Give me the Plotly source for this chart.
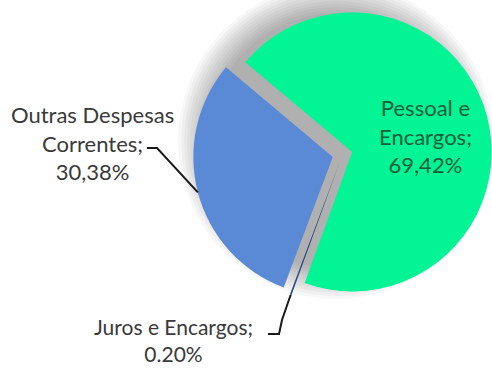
import math
import plotly.graph_objects as go

# ---- data ----
labels = ["Pessoal e Encargos", "Juros e Encargos", "Outras Despesas Correntes"]
values = [69.42, 0.20, 30.38]
label_texts = ["Pessoal e<br>Encargos;<br>69,42%",
               "Juros e Encargos;<br>0.20%",
               "Outras Despesas<br>Correntes;<br>30,38%"]
colors = ["#03F495", "#2B4C86", "#5A8AD6"]

# ---- layout geometry (pixels) ----
W, H = 492, 369
CX, CY = 342.5, 154.5      # pie centre
HALF = 149.5               # half box of pie domain
PULL = 0.0717
ROT = -50.0


def px2paper(x, y):
    return x / W, 1 - y / H


fig = go.Figure()

dom_x = [(CX - HALF) / W, min(1, (CX + HALF) / W)]
dom_y = [1 - (CY + HALF) / H, 1 - (CY - HALF) / H]

fig.add_trace(go.Pie(
    labels=labels, values=values, sort=False, direction="clockwise",
    rotation=ROT, pull=[PULL] * len(values),
    marker=dict(colors=colors, line=dict(width=0)),
    textinfo="none", hoverinfo="label+percent", showlegend=False,
    domain=dict(x=dom_x, y=dom_y),
))

# slice mid-angles (clockwise from 12 o'clock), derived from the data
total = sum(values)
mids = []
a = ROT
for v in values:
    span = 360 * v / total
    mids.append(a + span / 2)
    a += span

r_pie = HALF / (1 + PULL)


def slice_point(i, dist):
    ang = math.radians(mids[i])
    off = PULL * r_pie
    cx = CX + off * math.sin(ang)
    cy = CY - off * math.cos(ang)
    return cx + dist * math.sin(ang), cy - dist * math.cos(ang)


shapes = []
# soft shadow behind the pie: stacked translucent discs (drawn below the pie)
SCX, SCY = 336.0, 141.0
for k in range(11):
    r = 128 + 3 * k
    x0, y0 = px2paper(SCX - r, SCY + r)
    x1, y1 = px2paper(SCX + r, SCY - r)
    shapes.append(dict(type="circle", xref="paper", yref="paper",
                       x0=x0, y0=y0, x1=x1, y1=y1, layer="below",
                       fillcolor="rgba(0,0,0,0.03)", line=dict(width=0)))

# labels
font_out = dict(family="Lato, Carlito, sans-serif", size=22, color="#3a3a3a")
font_in = dict(family="Lato, Carlito, sans-serif", size=22, color="#12603A")
font_j = dict(family="Lato, Carlito, sans-serif", size=21, color="#3a3a3a")

anns = [
    (label_texts[0], 425, 136, font_in),
    (label_texts[1], 173, 340, font_j),
    (label_texts[2], 92, 143, font_out),
]
for txt, x, y, f in anns:
    px, py = px2paper(x, y)
    fig.add_annotation(text=txt, x=px, y=py, xref="paper", yref="paper",
                       xanchor="center", yanchor="middle", showarrow=False,
                       font=f, align="center")

# leader lines
ax, ay = slice_point(2, r_pie)
pts = [(ax, ay), (157, 148), (147, 148)]
path = "M " + " L ".join(f"{px2paper(x, y)[0]},{px2paper(x, y)[1]}" for x, y in pts)
shapes.append(dict(type="path", path=path, xref="paper", yref="paper",
                   line=dict(color="#1a1a1a", width=2)))
jx, jy = slice_point(1, r_pie)
pts = [(jx, jy), (282, 320), (279, 334), (268, 334)]
path = "M " + " L ".join(f"{px2paper(x, y)[0]},{px2paper(x, y)[1]}" for x, y in pts)
shapes.append(dict(type="path", path=path, xref="paper", yref="paper",
                   line=dict(color="#1a1a1a", width=2)))

fig.update_layout(
    width=W, height=H, margin=dict(l=0, r=0, t=0, b=0),
    paper_bgcolor="white", plot_bgcolor="white", showlegend=False,
    shapes=shapes,
)

fig.write_html("out.html")
